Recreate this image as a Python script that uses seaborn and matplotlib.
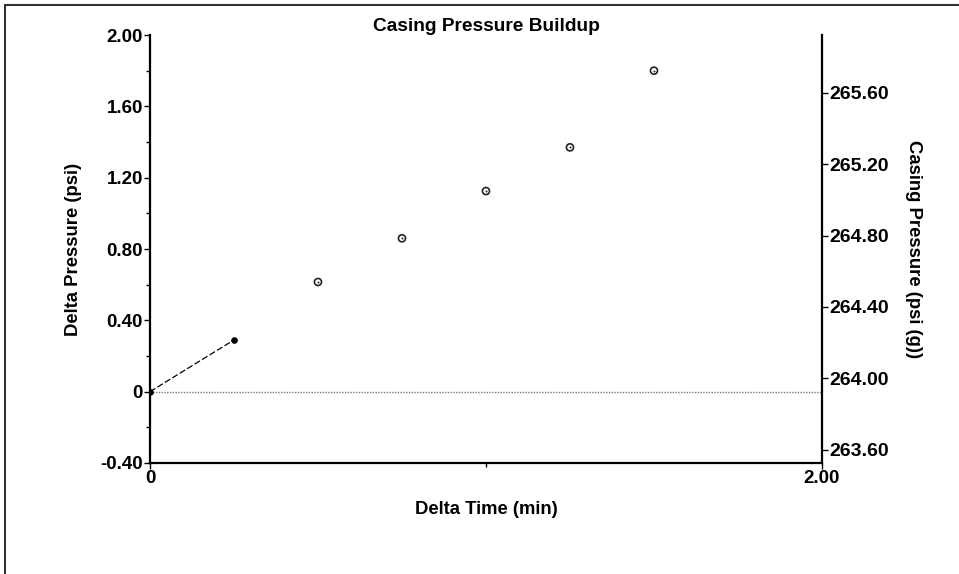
import numpy as np
import pandas as pd
import matplotlib.pyplot as plt
import seaborn as sns
from matplotlib.lines import Line2D
from matplotlib.ticker import FixedLocator, MultipleLocator

# buildup readings
dt_line = [0.0, 0.25]
dp_line = [0.0, 0.29]
dt_pts = [0.5, 0.75, 1.0, 1.25, 1.5]
dp_pts = [0.615, 0.86, 1.125, 1.37, 1.80]
p_start = 263.925  # casing pressure at delta 0 (psi g)

sns.set_theme(style="white")
plt.rcParams["font.family"] = ["Liberation Sans", "DejaVu Sans"]
plt.rcParams["font.weight"] = "bold"
plt.rcParams["text.color"] = "black"
plt.rcParams["axes.labelcolor"] = "black"

fig = plt.figure(figsize=(9.59, 5.74), dpi=100)
ax = fig.add_axes([0.1564, 0.1934, 0.7007, 0.7456])

ax.axhline(0, color="#777777", lw=1, ls=(0, (1, 1)), zorder=1)

df_line = pd.DataFrame({"dt": dt_line, "dp": dp_line})
df_pts = pd.DataFrame({"dt": dt_pts, "dp": dp_pts})
sns.lineplot(data=df_line, x="dt", y="dp", ax=ax, color="black", lw=0.9,
             dashes=False, linestyle=(0, (5, 2)), marker="o", markersize=4,
             markeredgecolor="black", markerfacecolor="black")
sns.scatterplot(data=df_pts, x="dt", y="dp", ax=ax, s=26, facecolor="none",
                edgecolor="#222222", linewidth=1.2, marker="o", zorder=3)
sns.scatterplot(data=df_pts, x="dt", y="dp", ax=ax, s=2, color="#222222",
                linewidth=0, zorder=4)

ax.set_xlim(0, 2.0)
ax.set_ylim(-0.4, 2.0)
ax.xaxis.set_major_locator(FixedLocator([0, 2.0]))
ax.xaxis.set_minor_locator(FixedLocator([1.0]))
ax.set_xticklabels(["0", "2.00"])
ax.yaxis.set_major_locator(MultipleLocator(0.4))
ax.yaxis.set_minor_locator(MultipleLocator(0.2))
ax.set_yticks([-0.4, 0, 0.4, 0.8, 1.2, 1.6, 2.0])
ax.set_yticklabels(["-0.40", "0", "0.40", "0.80", "1.20", "1.60", "2.00"])

for s in ["top", "right"]:
    ax.spines[s].set_visible(False)
for s in ["left", "bottom"]:
    ax.spines[s].set_color("black")
    ax.spines[s].set_linewidth(1.6)
ax.tick_params(which="both", direction="out", colors="black", width=1, left=True, bottom=True,
               labelsize=13.5, pad=1)
ax.tick_params(which="major", length=4)
ax.tick_params(which="minor", length=3)

ax.set_xlabel("Delta Time (min)", fontsize=13.3, fontweight="bold", labelpad=10)
ax.set_ylabel("Delta Pressure (psi)", fontsize=13.3, fontweight="bold", labelpad=13)
ax.set_title("Casing Pressure Buildup", fontsize=13.8, fontweight="bold", y=1.0, pad=3)

# right axis: absolute casing pressure
ax2 = ax.twinx()
ax2.set_ylim(-0.4 + p_start, 2.0 + p_start)
rt = np.array([263.6, 264.0, 264.4, 264.8, 265.2, 265.6])
ax2.set_yticks(rt)
ax2.set_yticklabels([f"{v:.2f}" for v in rt])
for s in ["top", "left", "bottom"]:
    ax2.spines[s].set_visible(False)
ax2.spines["right"].set_color("black")
ax2.spines["right"].set_linewidth(1.6)
ax2.tick_params(axis="y", direction="out", length=4, width=1, right=True, colors="black",
                labelsize=14, pad=1)
ax2.set_ylabel("Casing Pressure (psi (g))", fontsize=13.3, fontweight="bold",
               rotation=270, labelpad=24)
ax2.grid(False)
ax.grid(False)

# outer frame (top and left)
fig.add_artist(Line2D([5 / 959, 5 / 959], [0, 1 - 5 / 574], color="#333333", lw=1.5))
fig.add_artist(Line2D([5 / 959, 1], [1 - 5 / 574, 1 - 5 / 574], color="#333333", lw=1.5))

fig.savefig("out.png", dpi=100)
